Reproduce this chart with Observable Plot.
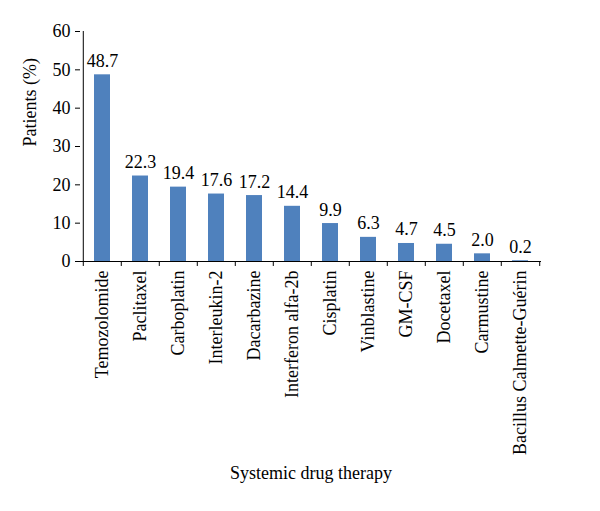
<!DOCTYPE html>
<html><head><meta charset="utf-8">
<script src="https://cdn.jsdelivr.net/npm/d3@7"></script>
<script src="https://cdn.jsdelivr.net/npm/@observablehq/plot@0.6"></script>
<style>
body{margin:0;background:#fff}
svg, svg text{font-family:'Liberation Serif', 'DejaVu Serif', serif !important; font-variant:normal !important}
</style>
</head><body><div id="chart"></div>
<script>
const drugs = ["Temozolomide","Paclitaxel","Carboplatin","Interleukin-2","Dacarbazine","Interferon alfa-2b","Cisplatin","Vinblastine","GM-CSF","Docetaxel","Carmustine","Bacillus Calmette-Guérin"];
const patients = [48.7,22.3,19.4,17.6,17.2,14.4,9.9,6.3,4.7,4.5,2.0,0.2];
const valueLabels = ["48.7","22.3","19.4","17.6","17.2","14.4","9.9","6.3","4.7","4.5","2.0","0.2"];
const yTicks = [0,10,20,30,40,50,60];
const yTitle = "Patients (%)";
const xTitle = "Systemic drug therapy";

const data = drugs.map((d,i)=>({drug:d, value:patients[i], label:valueLabels[i]}));
const W=600, H=511, mL=80, mR=59, mT=31, mB=250;
const step = (W-mL-mR)/drugs.length;
const ff = "'Liberation Serif', serif";

const chart = Plot.plot({
  width: W, height: H, marginLeft: mL, marginRight: mR, marginTop: mT, marginBottom: mB,
  style: {fontFamily: ff, fontSize: "17px", color: "#000", background: "#fff"},
  x: {domain: drugs, paddingInner: 0.58, paddingOuter: 0.29, label: null},
  y: {domain: [0,60], ticks: yTicks, label: null},
  marks: [
    Plot.barY(data, {x: "drug", y: "value", fill: "#4F81BD"}),
    Plot.ruleY([0], {stroke: "#000"}),
    Plot.ruleX([drugs[0]], {x: d=>d, y1: 0, y2: 60, dx: -step/2, stroke: "#000"}),
    Plot.ruleX(drugs, {x: d=>d, y1: 0, y2: -1.3, dx: -step/2, stroke: "#000"}),
    Plot.ruleX([drugs[drugs.length-1]], {x: d=>d, y1: 0, y2: -1.3, dx: step/2, stroke: "#000"}),
    Plot.text(data, {x: "drug", y: "value", text: "label", lineAnchor: "bottom", dy: -8, fontSize: 18, fontFamily: ff}),
    Plot.axisY({ticks: yTicks, tickSize: 5, tickPadding: 5, label: null, fontSize: 18, fontFamily: ff}),
    Plot.axisX({tickRotate: -90, tickSize: 0, tickPadding: 9, label: null, fontSize: 18, fontFamily: ff}),
    Plot.text([yTitle], {frameAnchor: "left", rotate: -90, dx: -50, fontSize: 18, fontFamily: ff}),
    Plot.text([xTitle], {frameAnchor: "bottom", dy: 217, fontSize: 18, fontFamily: ff})
  ]
});
document.getElementById("chart").appendChild(chart);
</script>
</body></html>
